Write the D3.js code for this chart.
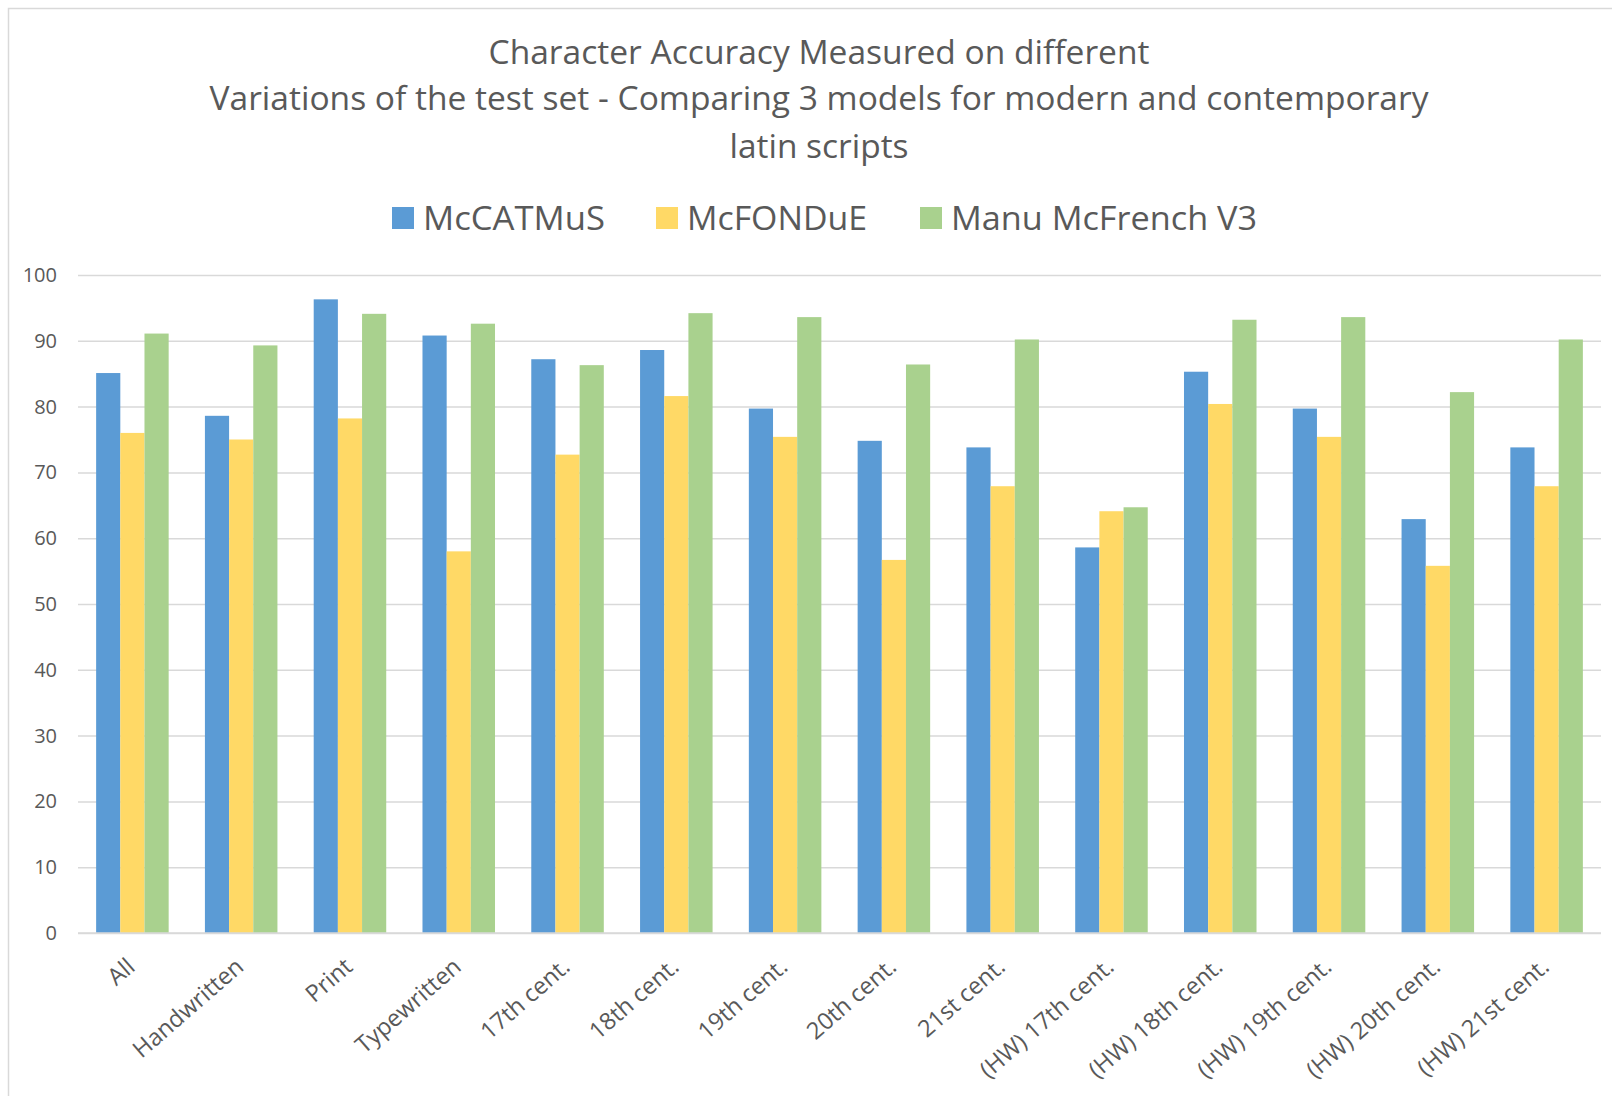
<!DOCTYPE html>
<html>
<head>
<meta charset="utf-8">
<script src="https://cdn.jsdelivr.net/npm/d3@7"></script>
<style>
  html, body { margin: 0; padding: 0; background: #fff; }
  svg { display: block; }
</style>
</head>
<body>
<svg id="chart" width="1612" height="1096"></svg>
<script>
const categories = ["All", "Handwritten", "Print", "Typewritten", "17th cent.", "18th cent.", "19th cent.", "20th cent.", "21st cent.", "(HW) 17th cent.", "(HW) 18th cent.", "(HW) 19th cent.", "(HW) 20th cent.", "(HW) 21st cent."];
const seriesNames = ["McCATMuS", "McFONDuE", "Manu McFrench V3"];
const mcCATMuS = [85.1, 78.6, 96.3, 90.8, 87.2, 88.6, 79.7, 74.8, 73.8, 58.6, 85.3, 79.7, 62.9, 73.8];
const mcFONDuE = [76.0, 75.0, 78.2, 58.0, 72.7, 81.6, 75.4, 56.7, 67.9, 64.1, 80.4, 75.4, 55.8, 67.9];
const manuMcFrenchV3 = [91.1, 89.3, 94.1, 92.6, 86.3, 94.2, 93.6, 86.4, 90.2, 64.7, 93.2, 93.6, 82.2, 90.2];
const yTicks = [0, 10, 20, 30, 40, 50, 60, 70, 80, 90, 100];
const titleLines = ["Character Accuracy Measured on different", "Variations of the test set - Comparing 3 models for modern and contemporary", "latin scripts"];
const colors = ["#5B9BD5", "#FFD966", "#A9D18E"];

const seriesValues = [mcCATMuS, mcFONDuE, manuMcFrenchV3];
const svg = d3.select("#chart");
const textColor = "#595959";
const font = "'Open Sans', 'Noto Sans', sans-serif";

// border
svg.append("rect").attr("x", 8.5).attr("y", 8.5).attr("width", 1700).attr("height", 1200)
  .attr("fill", "none").attr("stroke", "#d9d9d9").attr("stroke-width", 1.5);

const plotLeft = 78, plotRight = 1601, plotTop = 275, plotBottom = 933;
const y = d3.scaleLinear().domain([0, 100]).range([plotBottom, plotTop]);
const x0 = d3.scaleBand().domain(categories).range([plotLeft, plotRight]).padding(0);
const bw = x0.bandwidth();
const x1 = d3.scaleBand().domain(seriesNames).range([bw / 6, bw * 5 / 6]).padding(0);

// y axis + gridlines
const yAxis = svg.append("g").attr("transform", `translate(${plotLeft},0)`)
  .call(d3.axisLeft(y).tickValues(yTicks).tickSize(-(plotRight - plotLeft)).tickPadding(21));
yAxis.select(".domain").remove();
yAxis.selectAll(".tick line").attr("stroke", "#d9d9d9").attr("stroke-width", 1.5);
yAxis.selectAll(".tick text").attr("fill", textColor).attr("font-family", font).attr("font-size", 20);

// bars
const groups = svg.append("g").selectAll("g").data(categories).join("g")
  .attr("transform", d => `translate(${x0(d)},0)`);
groups.selectAll("rect").data((d, i) => seriesNames.map((s, j) => ({ s, j, v: seriesValues[j][i] })))
  .join("rect")
  .attr("x", d => x1(d.s))
  .attr("width", x1.bandwidth())
  .attr("y", d => y(d.v))
  .attr("height", d => y(0) - y(d.v))
  .attr("fill", d => colors[d.j]);

// x axis line
svg.append("line").attr("x1", plotLeft).attr("x2", plotRight).attr("y1", y(0)).attr("y2", y(0))
  .attr("stroke", "#d9d9d9").attr("stroke-width", 1.5);

// x labels
const xAxis = svg.append("g").attr("transform", `translate(0,${plotBottom})`)
  .call(d3.axisBottom(x0).tickSize(0));
xAxis.select(".domain").remove();
xAxis.selectAll(".tick text")
  .attr("fill", textColor).attr("font-family", font).attr("font-size", 23.5)
  .attr("text-anchor", "end")
  .attr("dy", null)
  .attr("y", null)
  .attr("transform", "translate(4,36) rotate(-41)");

// title
svg.append("g").selectAll("text").data(titleLines).join("text")
  .attr("x", 819).attr("y", (d, i) => [64, 110, 158][i])
  .attr("text-anchor", "middle")
  .attr("fill", textColor).attr("font-family", font).attr("font-size", 33)
  .attr("textLength", (d, i) => [661, 1219, 179][i])
  .attr("lengthAdjust", "spacingAndGlyphs")
  .text(d => d);

// legend
const legendX = [392, 656, 920];
const legendW = [182, 180, 306];
const lg = svg.append("g").selectAll("g").data(seriesNames).join("g");
lg.append("rect").attr("x", (d, i) => legendX[i]).attr("y", 207).attr("width", 22).attr("height", 22)
  .attr("fill", (d, i) => colors[i]);
lg.append("text").attr("x", (d, i) => legendX[i] + 31).attr("y", 230)
  .attr("fill", textColor).attr("font-family", font).attr("font-size", 32)
  .attr("textLength", (d, i) => legendW[i]).attr("lengthAdjust", "spacingAndGlyphs")
  .text(d => d);
</script>
</body>
</html>
